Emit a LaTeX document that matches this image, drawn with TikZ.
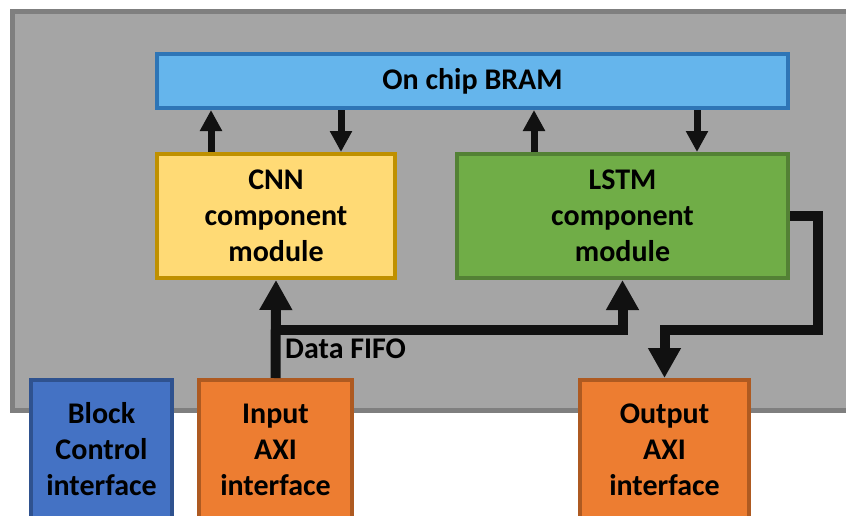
\documentclass[tikz,border=0pt]{standalone}
\usepackage{fontspec}
\setmainfont{Carlito}
\usetikzlibrary{arrows.meta}
\definecolor{bggray}{HTML}{A5A5A5}
\definecolor{bgedge}{HTML}{7F7F7F}
\definecolor{bramfill}{HTML}{65B5EC}
\definecolor{bramedge}{HTML}{2E75B6}
\definecolor{cnnfill}{HTML}{FFDA75}
\definecolor{cnnedge}{HTML}{BF9000}
\definecolor{lstmfill}{HTML}{70AD47}
\definecolor{lstmedge}{HTML}{538135}
\definecolor{ctrlfill}{HTML}{4472C4}
\definecolor{ctrledge}{HTML}{2F528F}
\definecolor{axifill}{HTML}{ED7D31}
\definecolor{axiedge}{HTML}{AE5A21}
\definecolor{wire}{HTML}{111111}
\tikzset{
  blk/.style={draw, line width=4pt, align=center, inner sep=0pt,
    font=\bfseries\fontsize{30}{36}\selectfont},
  bus/.style={draw=wire, line width=10pt, line join=miter,
    -{Triangle[width=31pt,length=30pt]}},
  rw/.style={draw=wire, line width=7pt, -{Triangle[width=21pt,length=21pt]}}
}
\begin{document}
\begin{tikzpicture}[x=1pt,y=-1pt]
    \useasboundingbox (0,0) rectangle (846,515);
    \clip (0,0) rectangle (846,515);
    \draw [line width=5pt, draw=bgedge, fill=bggray] (12.5,11.5) rectangle (880,410.5);
    \node [blk, fill=bramfill, draw=bramedge, minimum width=631pt, minimum height=54pt] (bram) at (472.5,81) {On chip BRAM};
    \node [blk, fill=cnnfill, draw=cnnedge, minimum width=238pt, minimum height=124pt] (cnn) at (276,216) {CNN\\component\\module};
    \node [blk, fill=lstmfill, draw=lstmedge, minimum width=331pt, minimum height=124pt] (lstm) at (622.5,216) {LSTM\\component\\module};
    \node [blk, fill=ctrlfill, draw=ctrledge, minimum width=141pt, minimum height=139pt] (ctrl) at (101.5,449.5) {Block\\Control\\interface};
    \node [blk, fill=axifill, draw=axiedge, minimum width=153pt, minimum height=139pt] (inaxi) at (275.5,449.5) {Input\\AXI\\interface};
    \node [blk, fill=axifill, draw=axiedge, minimum width=169pt, minimum height=139pt] (outaxi) at (664.5,449.5) {Output\\AXI\\interface};
    \draw [rw] ([xshift=-65pt]cnn.north) -- ([xshift=-65pt]cnn.north |- bram.south);
    \draw [rw] ([xshift=65pt]cnn.north |- bram.south) -- ([xshift=65pt]cnn.north);
    \draw [rw] ([xshift=-88.5pt]lstm.north) -- ([xshift=-88.5pt]lstm.north |- bram.south);
    \draw [rw] ([xshift=74.5pt]lstm.north |- bram.south) -- ([xshift=74.5pt]lstm.north);
    \coordinate (turn) at (818,330);
    \coordinate (fifo) at (inaxi.north |- turn);
    \draw [bus] (inaxi.north) -- (cnn.south);
    \draw [bus] (fifo) -| (lstm.south);
    \draw [bus] (lstm.east) -| (turn) -| (outaxi.north);
    \node [anchor=west, inner sep=0pt, font=\bfseries\fontsize{30}{36}\selectfont] (fifolabel) at (285,349) {Data FIFO};
\end{tikzpicture}
\end{document}
